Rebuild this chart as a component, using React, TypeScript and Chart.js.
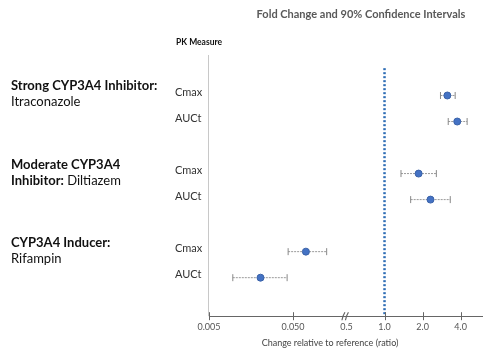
import { useEffect, useRef } from 'react';
import { Chart, registerables } from 'chart.js';
Chart.register(...registerables);

const chartTitle = 'Fold Change and 90% Confidence Intervals';
const columnHeader = 'PK Measure';
const axisTitle = 'Change relative to reference (ratio)';

const groupTitles = ['Strong CYP3A4 Inhibitor:', 'Moderate CYP3A4', 'CYP3A4 Inducer:'];
const groupSubBold = ['', 'Inhibitor:', ''];
const groupSubText = ['Itraconazole', ' Diltiazem', 'Rifampin'];
const measures = ['Cmax', 'AUCt'];

// rows in order: group0 Cmax, group0 AUCt, group1 Cmax, ...
const pointEstimate = [3.14, 3.76, 1.86, 2.31, 0.087, 0.0205];
const lowerCI = [2.77, 3.19, 1.35, 1.61, 0.0437, 0.0096];
const upperCI = [3.62, 4.5, 2.57, 3.31, 0.213, 0.0425];

const tickValues = [0.005, 0.05, 0.5, 1, 2, 4];
const tickLabels = ['0.005', '0.050', '0.5', '1.0', '2.0', '4.0'];
const referenceRatio = 1;
const breakValue = 0.5;

// broken log axis transform
function pos(v: number): number {
  if (v <= 0.05) return 85 * Math.log10(v / 0.005);
  if (v <= 0.5) return 85 + 54 * Math.log10(v / 0.05);
  return 139 + 38.5 * Math.log2(v / 0.5);
}

const FONT = 'Lato, "DejaVu Sans", sans-serif';
const Y_MIN = -1.556;
const Y_MAX = 8.48;

function rowOf(i: number) {
  const g = Math.floor(i / measures.length);
  const m = i % measures.length;
  return g * (measures.length + 1) + m;
}

const labelPlugin = {
  id: 'labels',
  afterDraw(chart: any) {
    const ctx = chart.ctx as CanvasRenderingContext2D;
    const xs = chart.scales.x;
    const ys = chart.scales.y;
    const area = chart.chartArea;
    ctx.save();
    // faint left axis line
    ctx.strokeStyle = '#c8c8c8';
    ctx.lineWidth = 1;
    ctx.beginPath();
    ctx.moveTo(area.left - 0.5, area.top);
    ctx.lineTo(area.left - 0.5, area.bottom);
    ctx.stroke();

    // tick marks crossing axis
    ctx.strokeStyle = '#666';
    ctx.lineWidth = 1;
    const yb = area.bottom;
    tickValues.forEach((v) => {
      const px = Math.round(xs.getPixelForValue(pos(v))) + 0.5;
      if (v === breakValue) return;
      ctx.beginPath();
      ctx.moveTo(px, yb - 4);
      ctx.lineTo(px, yb + 4);
      ctx.stroke();
    });
    // axis break symbol
    const bx = xs.getPixelForValue(pos(breakValue)) - 1;
    ctx.lineWidth = 1.2;
    [-2, 1.5].forEach((o) => {
      ctx.beginPath();
      ctx.moveTo(bx + o - 1.5, yb + 4);
      ctx.quadraticCurveTo(bx + o - 1, yb, bx + o + 1.5, yb - 4);
      ctx.stroke();
    });

    // title
    ctx.fillStyle = '#595959';
    ctx.font = `bold 11px ${FONT}`;
    ctx.textAlign = 'center';
    ctx.textBaseline = 'middle';
    ctx.fillText(chartTitle, 353, 6);

    // column header
    ctx.fillStyle = '#111';
    ctx.font = `bold 8.5px ${FONT}`;
    ctx.textAlign = 'left';
    ctx.fillText(columnHeader, 168, 34);

    // axis title
    ctx.fillStyle = '#444';
    ctx.font = `9px ${FONT}`;
    ctx.textAlign = 'center';
    ctx.fillText(axisTitle, 322, 335);

    // measure labels
    ctx.fillStyle = '#333';
    ctx.font = `11px ${FONT}`;
    ctx.textAlign = 'left';
    pointEstimate.forEach((_, i) => {
      const y = ys.getPixelForValue(rowOf(i));
      ctx.fillText(measures[i % measures.length], 167, y - 3.5);
    });

    // group labels
    ctx.textBaseline = 'alphabetic';
    groupTitles.forEach((t, g) => {
      const y0 = ys.getPixelForValue(g * (measures.length + 1));
      ctx.fillStyle = '#111';
      ctx.font = `bold 13px ${FONT}`;
      ctx.fillText(t, 3, y0 - 5);
      let x = 3;
      if (groupSubBold[g]) {
        ctx.fillText(groupSubBold[g], x, y0 + 11);
        x += ctx.measureText(groupSubBold[g]).width;
      }
      ctx.font = `13px ${FONT}`;
      ctx.fillText(groupSubText[g], x, y0 + 11);
    });
    ctx.restore();
  },
};

export default function App() {
  const ref = useRef<HTMLCanvasElement>(null);
  useEffect(() => {
    if (!ref.current) return;
    const errorSets = pointEstimate.map((_, i) => ({
      type: 'line' as const,
      data: [
        { x: pos(lowerCI[i]), y: rowOf(i) },
        { x: pos(upperCI[i]), y: rowOf(i) },
      ],
      borderColor: '#9a9a9a',
      borderWidth: 1,
      borderDash: [2, 1],
      pointStyle: 'line' as const,
      rotation: 90,
      pointRadius: 3.5,
      pointBorderColor: '#888',
      pointBorderWidth: 1,
      order: 1,
    }));
    const chart = new Chart(ref.current, {
      type: 'scatter',
      data: {
        datasets: [
          {
            type: 'scatter',
            data: pointEstimate.map((v, i) => ({ x: pos(v), y: rowOf(i) })),
            backgroundColor: '#4472c4',
            borderColor: '#3a62a8',
            borderWidth: 1,
            pointRadius: 3.5,
            order: 0,
          },
          ...errorSets,
          {
            type: 'line',
            data: [
              { x: pos(referenceRatio), y: -1.05 },
              { x: pos(referenceRatio), y: Y_MAX },
            ],
            borderColor: '#2e6db5',
            borderWidth: 2.5,
            borderDash: [2, 2],
            pointRadius: 0,
            order: 2,
          },
        ] as any,
      },
      options: {
        animation: false,
        responsive: true,
        maintainAspectRatio: false,
        layout: { padding: { left: 201, right: 2, top: 47, bottom: 12 } },
        plugins: { legend: { display: false }, tooltip: { enabled: false } },
        scales: {
          x: {
            type: 'linear',
            min: 0,
            max: pos(5.9),
            grid: { display: false, drawTicks: false },
            border: { display: true, color: '#666', width: 1 },
            afterBuildTicks: (scale: any) => {
              scale.ticks = tickValues.map((v) => ({ value: pos(v) }));
            },
            ticks: {
              autoSkip: false,
              maxRotation: 0,
              padding: 5,
              color: '#555',
              font: { family: FONT, size: 9 },
              callback: (_v: any, i: number) => tickLabels[i],
            },
          },
          y: {
            type: 'linear',
            display: false,
            reverse: true,
            min: Y_MIN,
            max: Y_MAX,
          },
        },
      },
      plugins: [labelPlugin],
    });
    return () => chart.destroy();
  }, []);
  return (
    <div style={{ width: 479, height: 341, position: 'relative' }}>
      <canvas ref={ref} />
    </div>
  );
}
